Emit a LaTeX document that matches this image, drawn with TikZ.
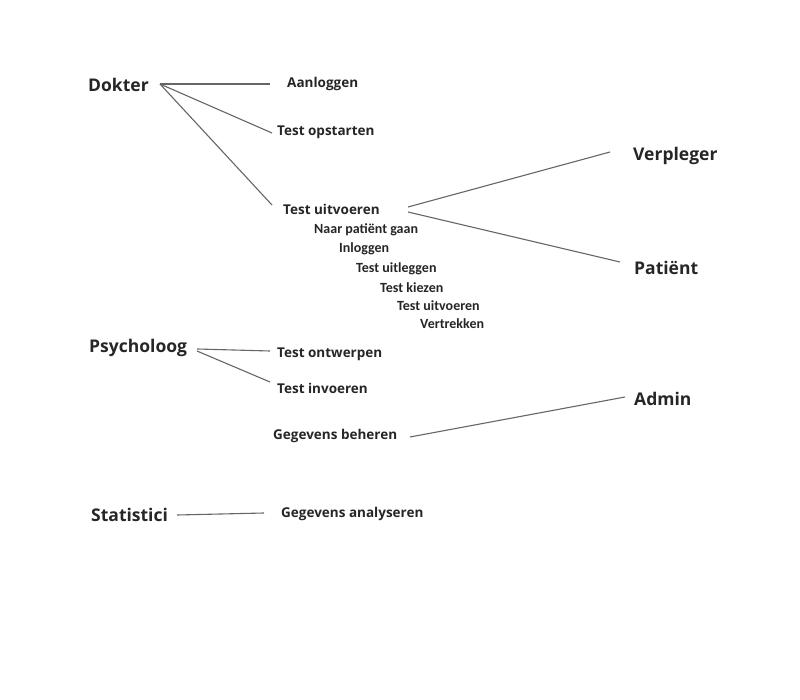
\documentclass[tikz,border=0pt]{standalone}
\usepackage{fontspec}
\setmainfont{Open Sans}
\newfontfamily\subfont{Carlito}
\begin{document}
\begin{tikzpicture}[x=1pt,y=-1pt,
  actor/.style={font=\fontsize{17.5}{20}\selectfont\bfseries, text=black!85, inner sep=0pt, anchor=west},
  task/.style={font=\fontsize{13.5}{15}\selectfont\bfseries, text=black!85, inner sep=0pt, anchor=west},
  subtask/.style={font=\subfont\fontsize{14}{15}\selectfont\bfseries, text=black!85, inner sep=0pt, anchor=west},
  link/.style={draw=black!60, line width=1.1pt}]
\useasboundingbox (0,0) rectangle (800,700);
\fill[white] (0,0) rectangle (800,700);
% actors
\node[actor] (dokter) at (88,85) {Dokter};
\node[actor] (verpleger) at (633,156) {Verpleger};
\node[actor] (patient) at (634,268) {Patiënt};
\node[actor] (psycholoog) at (89,348) {Psycholoog};
\node[actor] (admin) at (634,399) {Admin};
\node[actor] (statistici) at (91,515) {Statistici};
% tasks
\node[task] (aanloggen) at (287,84) {Aanloggen};
\node[task] (opstarten) at (277,132) {Test opstarten};
\node[task] (uitvoeren) at (283,209) {Test uitvoeren};
\node[task] (ontwerpen) at (277,354) {Test ontwerpen};
\node[task] (invoeren) at (277,388) {Test invoeren};
\node[task] (beheren) at (273,436) {Gegevens beheren};
\node[task] (analyseren) at (281,514) {Gegevens analyseren};
% subtasks
\node[subtask] (s1) at (314,230) {Naar patiënt gaan};
\node[subtask] (s2) at (339,249) {Inloggen};
\node[subtask] (s3) at (356,269) {Test uitleggen};
\node[subtask] (s4) at (380,288) {Test kiezen};
\node[subtask] (s5) at (397,306) {Test uitvoeren};
\node[subtask] (s6) at (420,324) {Vertrekken};
% connector end points
\coordinate (dk) at (160,84);
\coordinate (aa) at (270,84);
\coordinate (op) at (272,133);
\coordinate (uv) at (272,205);
\coordinate (uvA) at (408,207);
\coordinate (uvB) at (408,212);
\coordinate (vp) at (610,152);
\coordinate (pt) at (620,262);
\coordinate (psA) at (197,349);
\coordinate (psB) at (197,351);
\coordinate (ow) at (270,351);
\coordinate (iv) at (270,382);
\coordinate (bh) at (410,437);
\coordinate (ad) at (625,397);
\coordinate (st) at (177,515);
\coordinate (an) at (264,513);
% connectors
\draw[link] (dk) -- (aa);
\draw[link] (dk) -- (op);
\draw[link] (dk) -- (uv);
\draw[link] (uvA) -- (vp);
\draw[link] (uvB) -- (pt);
\draw[link] (psA) -- (ow);
\draw[link] (psB) -- (iv);
\draw[link] (bh) -- (ad);
\draw[link] (st) -- (an);
\end{tikzpicture}
\end{document}
